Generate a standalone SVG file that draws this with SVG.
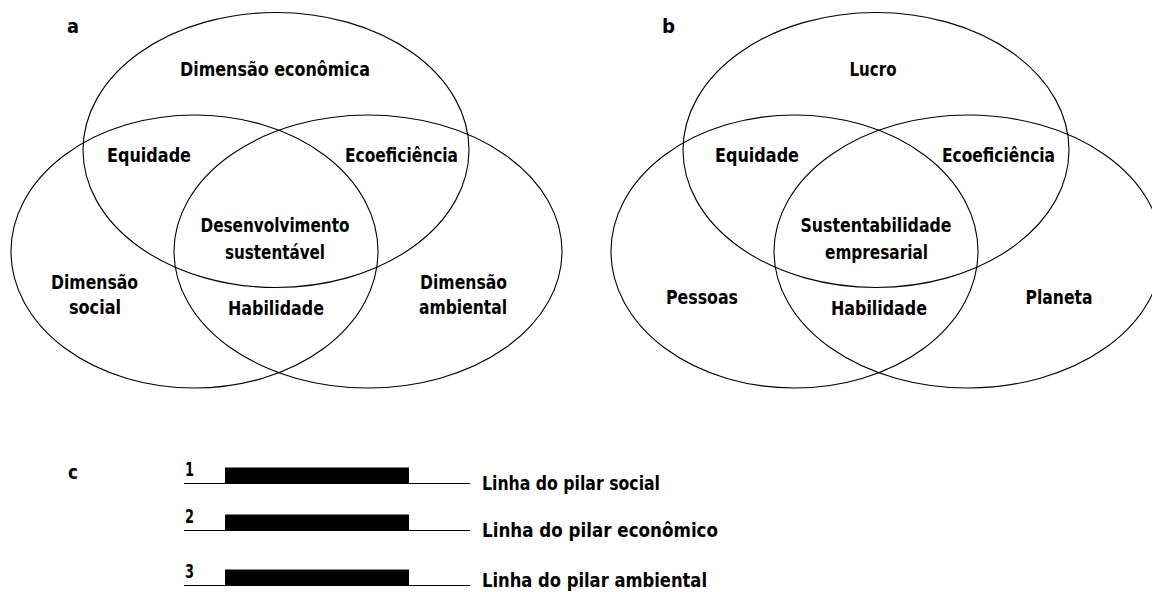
<svg xmlns="http://www.w3.org/2000/svg" width="1152" height="592" viewBox="0 0 1152 592">
<style>
.bg{fill:#ffffff}
.ring{fill:none;stroke:#000;stroke-width:1.1}
.t{font-family:"Liberation Sans Narrow","DejaVu Sans Condensed","Liberation Sans",sans-serif;font-weight:bold;font-size:20px;fill:#000}
.m{text-anchor:middle}
.rule{stroke:#000;stroke-width:1.1}
.bar{fill:#000}
</style>
<rect class="bg" x="0" y="0" width="1152" height="592"/>

<g id="panel-a">
  <text class="t" x="67" y="33" textLength="12" lengthAdjust="spacingAndGlyphs">a</text>
  <g id="a-economica">
    <ellipse class="ring" cx="276" cy="150" rx="193" ry="137.5"/>
    <text class="t m" x="275" y="76" textLength="190" lengthAdjust="spacingAndGlyphs">Dimensão econômica</text>
  </g>
  <g id="a-social">
    <ellipse class="ring" cx="194.5" cy="251.5" rx="183.5" ry="136.5"/>
    <text class="t m" x="94.5" y="289" textLength="87" lengthAdjust="spacingAndGlyphs">Dimensão</text>
    <text class="t m" x="95" y="314" textLength="52" lengthAdjust="spacingAndGlyphs">social</text>
  </g>
  <g id="a-ambiental">
    <ellipse class="ring" cx="368" cy="251.5" rx="194" ry="136.5"/>
    <text class="t m" x="463.5" y="289" textLength="87" lengthAdjust="spacingAndGlyphs">Dimensão</text>
    <text class="t m" x="463" y="314" textLength="88" lengthAdjust="spacingAndGlyphs">ambiental</text>
  </g>
  <g id="a-equidade">
    <text class="t m" x="149" y="162" textLength="84" lengthAdjust="spacingAndGlyphs">Equidade</text>
  </g>
  <g id="a-ecoeficiencia">
    <text class="t m" x="401.5" y="162" textLength="113" lengthAdjust="spacingAndGlyphs">Ecoeficiência</text>
  </g>
  <g id="a-centro">
    <text class="t m" x="275" y="232" textLength="149" lengthAdjust="spacingAndGlyphs">Desenvolvimento</text>
    <text class="t m" x="275" y="259" textLength="100" lengthAdjust="spacingAndGlyphs">sustentável</text>
  </g>
  <g id="a-habilidade">
    <text class="t m" x="276" y="315" textLength="96" lengthAdjust="spacingAndGlyphs">Habilidade</text>
  </g>
</g>

<g id="panel-b">
  <text class="t" x="662" y="33" textLength="13" lengthAdjust="spacingAndGlyphs">b</text>
  <g id="b-lucro">
    <ellipse class="ring" cx="876" cy="150" rx="193" ry="137.5"/>
    <text class="t m" x="873" y="76" textLength="47" lengthAdjust="spacingAndGlyphs">Lucro</text>
  </g>
  <g id="b-pessoas">
    <ellipse class="ring" cx="794.5" cy="251.5" rx="183.5" ry="136.5"/>
    <text class="t m" x="702" y="303.5" textLength="72" lengthAdjust="spacingAndGlyphs">Pessoas</text>
  </g>
  <g id="b-planeta">
    <ellipse class="ring" cx="968" cy="251.5" rx="194" ry="136.5"/>
    <text class="t m" x="1059" y="303.5" textLength="67" lengthAdjust="spacingAndGlyphs">Planeta</text>
  </g>
  <g id="b-equidade">
    <text class="t m" x="757" y="162" textLength="84" lengthAdjust="spacingAndGlyphs">Equidade</text>
  </g>
  <g id="b-ecoeficiencia">
    <text class="t m" x="998.5" y="162" textLength="113" lengthAdjust="spacingAndGlyphs">Ecoeficiência</text>
  </g>
  <g id="b-centro">
    <text class="t m" x="876" y="232" textLength="151" lengthAdjust="spacingAndGlyphs">Sustentabilidade</text>
    <text class="t m" x="876.5" y="259" textLength="103" lengthAdjust="spacingAndGlyphs">empresarial</text>
  </g>
  <g id="b-habilidade">
    <text class="t m" x="879" y="315" textLength="96" lengthAdjust="spacingAndGlyphs">Habilidade</text>
  </g>
</g>

<g id="panel-c">
  <text class="t" x="68" y="479" textLength="10" lengthAdjust="spacingAndGlyphs">c</text>
  <g id="c-pilar-social">
    <text class="t" x="185" y="476" textLength="9" lengthAdjust="spacingAndGlyphs">1</text>
    <rect class="bar" x="225" y="467.5" width="184" height="16"/>
    <line class="rule" x1="184" y1="483.5" x2="470" y2="483.5"/>
    <text class="t" x="482" y="489.5" textLength="178" lengthAdjust="spacingAndGlyphs">Linha do pilar social</text>
  </g>
  <g id="c-pilar-economico">
    <text class="t" x="185" y="523" textLength="9" lengthAdjust="spacingAndGlyphs">2</text>
    <rect class="bar" x="225" y="514.5" width="184" height="16"/>
    <line class="rule" x1="184" y1="530.5" x2="470" y2="530.5"/>
    <text class="t" x="482" y="536.5" textLength="236" lengthAdjust="spacingAndGlyphs">Linha do pilar econômico</text>
  </g>
  <g id="c-pilar-ambiental">
    <text class="t" x="185" y="578" textLength="9" lengthAdjust="spacingAndGlyphs">3</text>
    <rect class="bar" x="225" y="569.5" width="184" height="16"/>
    <line class="rule" x1="184" y1="585.5" x2="470" y2="585.5"/>
    <text class="t" x="482" y="587" textLength="225" lengthAdjust="spacingAndGlyphs">Linha do pilar ambiental</text>
  </g>
</g>
<g id="connectors"/>
</svg>
